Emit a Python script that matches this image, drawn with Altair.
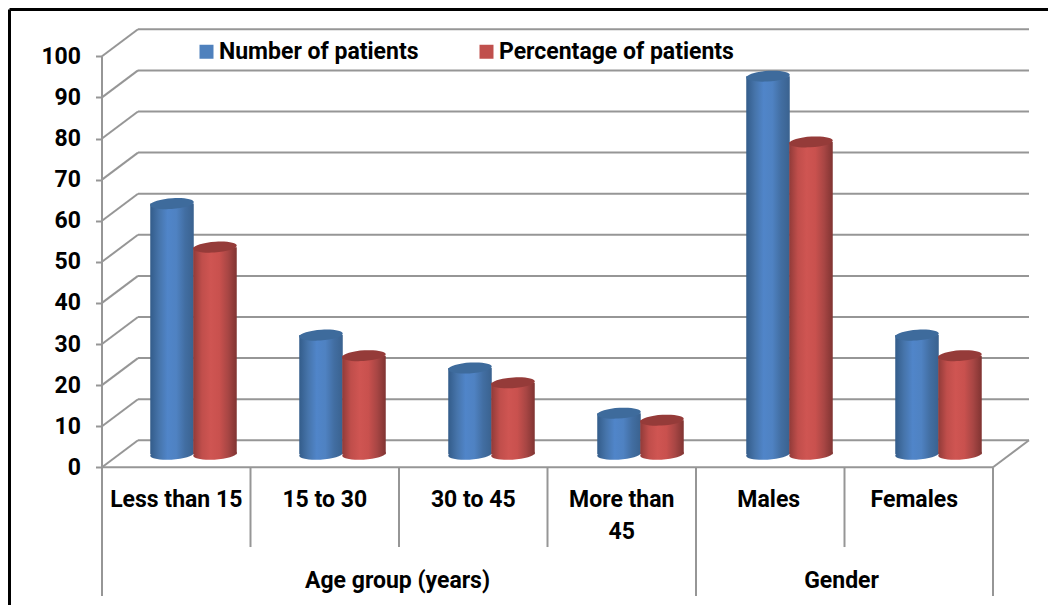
import altair as alt
import pandas as pd

groups = ["Less than 15", "15 to 30", "30 to 45", "More than\n45", "Males", "Females"]
group_label_x = [0.5, 1.5, 2.5, 3.5, 4.49, 5.47]
number_of_patients = [61, 29, 21, 10, 92, 29]
percentage_of_patients = [50.4, 24, 17.4, 8.3, 76, 24]
super_groups = ["Age group (years)", "Gender"]
super_label_x = [1.99, 4.98]
tick_values = list(range(0, 101, 10))
series_names = ["Number of patients", "Percentage of patients"]

FONT = "Roboto"
GRID = "#969696"
DX, DY = 0.2424, 6.57     # depth of the box, in axis units
BASE = 3.16               # cylinders stand mid-depth
HW = 0.1465               # cylinder half width, in group units
STEP = 149 / 148.5        # cylinders are spaced a touch wider than the category ticks
CENTERS = {series_names[0]: 0.4714, series_names[1]: 0.7609}

# scale mapping: group unit = 148.5 px from x=102, value unit = 4.11 px from y=467.3
L, T, R, B = 8.0, 8.0, 1048.0, 605.0
x_dom = [(L - 102) / 148.5, (R - 102) / 148.5]
y_dom = [(467.3 - B) / 4.11, (467.3 - T) / 4.11]
x_scale = alt.Scale(domain=x_dom, nice=False, zero=False)
y_scale = alt.Scale(domain=y_dom, nice=False, zero=False)
y_axis = alt.Axis(
    values=tick_values, offset=-(101.5 - L), domain=False, grid=False, title=None,
    tickColor=GRID, tickWidth=2, tickSize=6, labelPadding=15,
    labelFont=FONT, labelFontSize=23, labelFontWeight="bold", labelColor="black",
)
X = alt.X("x:Q", scale=x_scale, axis=None)
Y = alt.Y("y:Q", scale=y_scale, axis=y_axis)

lines = []
for v in tick_values:
    lines.append(dict(x=0, x2=DX, y=v, y2=v + DY))
    lines.append(dict(x=DX, x2=6 + DX, y=v + DY, y2=v + DY))
lines.append(dict(x=0, x2=0, y=0, y2=100))
lines.append(dict(x=0, x2=6, y=0, y2=0))
lines.append(dict(x=6, x2=6 + DX, y=0, y2=DY))
for i, low in zip(range(7), [-31.3, -19.4, -19.4, -19.4, -31.3, -19.4, -31.3]):
    lines.append(dict(x=i, x2=i, y=0, y2=low))
lines_df = pd.DataFrame(lines)

rules = alt.Chart(lines_df).mark_rule(color=GRID, strokeWidth=2).encode(
    x=X, x2="x2:Q", y=Y, y2="y2:Q"
)

# the picture's frame: only its top and left edges are visible
fx = (9.5 - 102) / 148.5
fy = (467.3 - 9.5) / 4.11
frame = alt.Chart(pd.DataFrame([
    dict(x=fx, x2=x_dom[1], y=fy, y2=fy),
    dict(x=fx, x2=fx, y=fy, y2=y_dom[0]),
])).mark_rule(color="black", strokeWidth=3).encode(x=X, x2="x2:Q", y=Y, y2="y2:Q")

ELLIPSE = "M-1 0.06A1 0.245 -4 1 1 1 -0.06A1 0.245 -4 1 1 -1 0.06Z"
SIZE = (2 * HW * 148.5) ** 2


def gradient(stops):
    n = len(stops) - 1
    return alt.Gradient(
        gradient="linear", x1=0, x2=1, y1=0, y2=0,
        stops=[alt.GradientStop(offset=i / n, color=c) for i, c in enumerate(stops)],
    )


def cylinder(name, values, stops, cap):
    c = CENTERS[name]
    df = pd.DataFrame({
        "group": groups,
        "x": [i * STEP + c for i in range(6)],
        "x0": [i * STEP + c - HW for i in range(6)],
        "x1": [i * STEP + c + HW for i in range(6)],
        "base": [BASE] * 6,
        "y": [v + BASE for v in values],
        "value": values,
    })
    fill = gradient(stops)
    bottom = alt.Chart(df).mark_point(
        shape=ELLIPSE, filled=True, fill=fill, opacity=1, size=SIZE, strokeWidth=0
    ).encode(x=X, y=alt.Y("base:Q", scale=y_scale, axis=y_axis))
    body = alt.Chart(df).mark_rect(fill=fill).encode(
        x=alt.X("x0:Q", scale=x_scale, axis=None),
        x2="x1:Q", y=Y, y2="base:Q",
    )
    top = alt.Chart(df).mark_point(
        shape=ELLIPSE, filled=True, fill=cap, opacity=1, size=SIZE, strokeWidth=0
    ).encode(x=X, y=Y)
    return [bottom, body, top]


blue = cylinder(series_names[0], number_of_patients,
                ["#335c8a", "#4674aa", "#5085c9", "#4f82c2", "#426ea2", "#3a628f"], "#3e6b9c")
red = cylinder(series_names[1], percentage_of_patients,
               ["#913b39", "#c04e4b", "#cf5552", "#c9514e", "#a84644", "#803432"], "#953b39")

# hidden behind the first pair of cylinders: these only carry the legend
legend_layer = alt.Chart(pd.DataFrame({
    "x": [0.47, 0.76], "y": [10, 10], "series": series_names
})).mark_point(filled=True, opacity=1, size=1).encode(
    x=X, y=Y,
    fill=alt.Fill(
        "series:N",
        scale=alt.Scale(domain=series_names, range=["#4f81bd", "#c0504d"]),
        legend=alt.Legend(
            title=None, orient="none", direction="horizontal",
            legendX=187, legendY=32,
            symbolType="square", symbolSize=196, symbolStrokeWidth=0,
            labelFont=FONT, labelFontSize=23, labelFontWeight="bold", labelColor="black",
            labelOffset=1, columnPadding=56, labelLimit=300,
        ),
    ),
)

group_text = alt.Chart(pd.DataFrame({
    "x": group_label_x, "y": [-7.9] * 6, "label": groups
})).mark_text(
    font=FONT, fontSize=23, fontWeight="bold", color="black", lineBreak="\n",
    lineHeight=32, baseline="middle",
).encode(x=X, y=Y, text="label:N")

super_text = alt.Chart(pd.DataFrame({
    "x": super_label_x, "y": [-27.7, -27.7], "label": super_groups
})).mark_text(
    font=FONT, fontSize=23, fontWeight="bold", color="black", baseline="middle",
).encode(x=X, y=Y, text="label:N")

chart = alt.layer(
    frame, rules, legend_layer, *blue, *red, group_text, super_text
).resolve_scale(x="shared", y="shared").properties(
    width=R - L, height=B - T,
    padding=0,
    autosize=alt.AutoSizeParams(type="none"),
    background="white",
).configure_view(stroke=None)

chart.save("out.html", embed_options={"renderer": "svg", "actions": False})
